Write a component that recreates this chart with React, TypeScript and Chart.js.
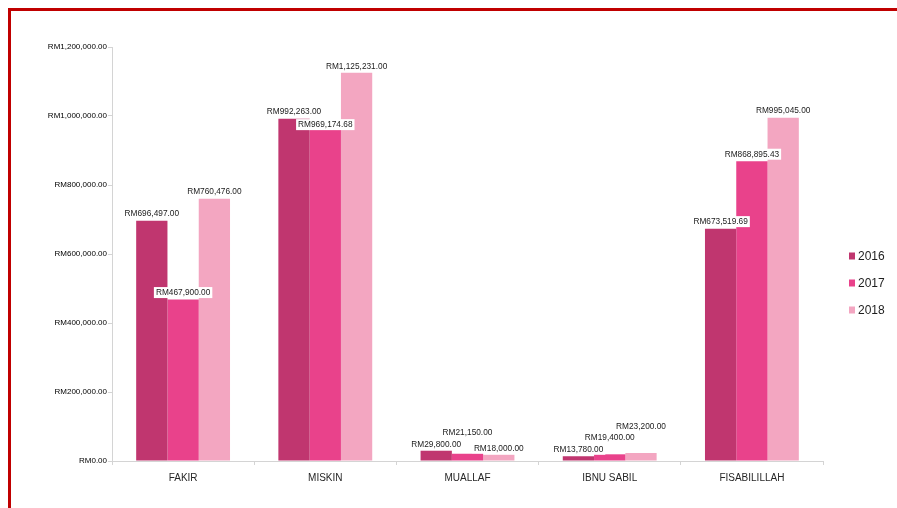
import React, { useEffect, useRef } from "react";
import { Chart, registerables } from "chart.js";

Chart.register(...registerables);

const categories = ["FAKIR", "MISKIN", "MUALLAF", "IBNU SABIL", "FISABILILLAH"];
const seriesLabels = ["2016", "2017", "2018"];
const data2016 = [696497, 992263, 29800, 13780, 673519.69];
const data2017 = [467900, 969174.68, 21150, 19400, 868895.43];
const data2018 = [760476, 1125231, 18000, 23200, 995045];
const yMax = 1200000;
const yStep = 200000;

const colors = ["#C0366F", "#E9428B", "#F3A6C1"];
const FONT = "'Liberation Sans', Arial, sans-serif";

const fmt = (v: number) =>
  "RM" + v.toLocaleString("en-US", { minimumFractionDigits: 2, maximumFractionDigits: 2 });

const valueLabels = {
  id: "valueLabels",
  afterDatasetsDraw(chart: any) {
    const ctx = chart.ctx;
    const base = chart.scales.y.getPixelForValue(0);
    ctx.save();
    ctx.font = `8.3px ${FONT}`;
    ctx.textAlign = "center";
    ctx.textBaseline = "middle";
    const placed: { l: number; r: number; t: number; b: number }[] = [];
    const n = chart.data.labels.length;
    for (let i = 0; i < n; i++) {
      chart.data.datasets.forEach((ds: any, di: number) => {
        const meta = chart.getDatasetMeta(di);
        const el = meta.data[i];
        if (!el) return;
        const text = fmt(ds.data[i]);
        const w = ctx.measureText(text).width + 4;
        const h = 11;
        const cx = el.x;
        const overlaps = (y: number) =>
          placed.some(
            (p) => cx - w / 2 < p.r && cx + w / 2 > p.l && y - h / 2 < p.b && y + h / 2 > p.t
          );
        let cy = el.y - 7;
        if (overlaps(cy)) {
          let found = false;
          if (base - el.y > 40) {
            for (let d = 1; d <= 12; d++) {
              if (!overlaps(el.y - 7 + d)) {
                cy = el.y - 7 + d + 1;
                found = true;
                break;
              }
            }
          }
          if (!found) {
            let guard = 0;
            while (overlaps(cy) && guard < 20) {
              cy -= 2;
              guard++;
            }
          }
        }
        placed.push({ l: cx - w / 2, r: cx + w / 2, t: cy - h / 2, b: cy + h / 2 });
        ctx.fillStyle = "#ffffff";
        ctx.fillRect(cx - w / 2, cy - h / 2, w, h);
        ctx.fillStyle = "#222222";
        ctx.fillText(text, cx, cy + 0.5);
      });
    }
    ctx.restore();
  },
};

const sideLegend = {
  id: "sideLegend",
  afterDraw(chart: any) {
    const ctx = chart.ctx;
    const area = chart.chartArea;
    const x = area.right + 26;
    const mid = (area.top + area.bottom) / 2 + 29;
    const gap = 27;
    ctx.save();
    ctx.font = `12px ${FONT}`;
    ctx.textAlign = "left";
    ctx.textBaseline = "middle";
    chart.data.datasets.forEach((ds: any, i: number) => {
      const cy = mid + (i - 1) * gap;
      ctx.fillStyle = ds.backgroundColor;
      ctx.fillRect(x, cy - 3.5, 6, 7);
      ctx.fillStyle = "#1e1e1e";
      ctx.fillText(ds.label, x + 9, cy + 0.5);
    });
    ctx.restore();
  },
};

export default function App() {
  const ref = useRef<HTMLCanvasElement | null>(null);
  useEffect(() => {
    if (!ref.current) return;
    const chart = new Chart(ref.current, {
      type: "bar",
      data: {
        labels: categories,
        datasets: [data2016, data2017, data2018].map((d, i) => ({
          label: seriesLabels[i],
          data: d,
          backgroundColor: colors[i],
          borderWidth: 0,
          categoryPercentage: 0.66,
          barPercentage: 1.0,
        })),
      },
      options: {
        responsive: false,
        animation: false,
        layout: { padding: { top: 36, right: 66, bottom: 0, left: 0 } },
        plugins: {
          legend: { display: false },
          tooltip: { enabled: false },
        },
        scales: {
          x: {
            grid: {
              display: true,
              drawOnChartArea: false,
              drawTicks: true,
              tickLength: 4,
              color: "#d4d4d4",
              offset: true,
            },
            border: { color: "#d4d4d4" },
            ticks: {
              color: "#262626",
              font: { family: FONT, size: 10 },
              padding: 7,
              maxRotation: 0,
            },
            afterFit: (s: any) => {
              s.height = 36;
            },
          },
          y: {
            min: 0,
            max: yMax,
            grid: {
              display: true,
              drawOnChartArea: false,
              drawTicks: true,
              tickLength: 4,
              color: "#d4d4d4",
            },
            border: { color: "#d4d4d4" },
            ticks: {
              stepSize: yStep,
              color: "#000000",
              font: { family: FONT, size: 8 },
              padding: 1,
              callback: (v: any) => fmt(Number(v)),
            },
            afterFit: (s: any) => {
              s.width = 101;
            },
          },
        },
      },
      plugins: [valueLabels, sideLegend],
    });
    return () => chart.destroy();
  }, []);
  return (
    <div
      style={{
        position: "fixed",
        left: 8,
        top: 8,
        right: 0,
        bottom: 0,
        borderTop: "3px solid #c00000",
        borderLeft: "3px solid #c00000",
        background: "#fff",
        overflow: "hidden",
      }}
    >
      <canvas ref={ref} width={878} height={486} style={{ display: "block" }} />
    </div>
  );
}
